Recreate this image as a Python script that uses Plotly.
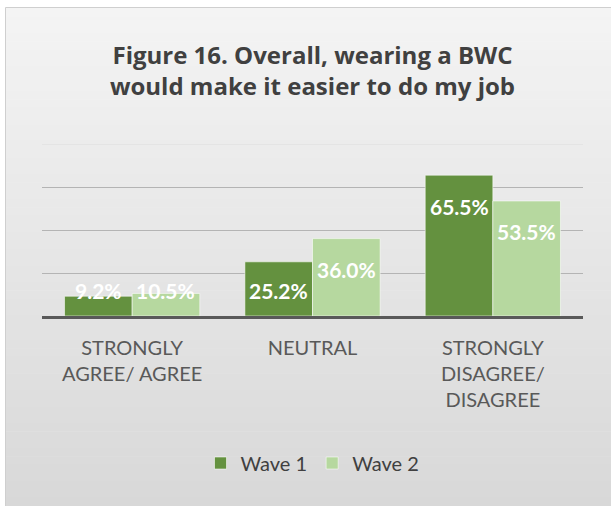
import plotly.graph_objects as go

categories = ["STRONGLY<br>AGREE/ AGREE", "NEUTRAL", "STRONGLY<br>DISAGREE/<br>DISAGREE"]
series_names = ["Wave 1", "Wave 2"]
wave1 = [9.2, 25.2, 65.5]
wave2 = [10.5, 36.0, 53.5]
title_text = "Figure 16. Overall, wearing a BWC<br>would make it easier to do my job"

colors = ["#64913f", "#b6d89f"]
W, H = 611, 506
L, R, T, B = 42, 583, 144, 316
YMAX = 80.0

def px2x(px):
    return (px - L) / (R - L)

def px2y(py):
    return (B - py) / (B - T)

fig = go.Figure()
for name, vals, col in zip(series_names, [wave1, wave2], colors):
    fig.add_trace(go.Bar(
        name=name, x=list(range(len(categories))), y=vals,
        marker=dict(color=col, line=dict(color="rgba(255,255,255,0.55)", width=1)),
        hoverinfo="skip",
    ))

# gradient background shapes
shapes = []
N = 60
y0p, y1p = 8, 506
c_top, c_bot = (244, 244, 244), (216, 216, 216)
for i in range(N):
    a = y0p + (y1p - y0p) * i / N
    b = y0p + (y1p - y0p) * (i + 1) / N
    t = (i + 0.5) / N
    c = tuple(round(c_top[k] + (c_bot[k] - c_top[k]) * t) for k in range(3))
    shapes.append(dict(type="rect", xref="paper", yref="paper",
                       x0=px2x(6), x1=px2x(W + 2), y0=px2y(a), y1=px2y(b + 0.5),
                       fillcolor="rgb(%d,%d,%d)" % c, line=dict(width=0), layer="below"))
shapes.append(dict(type="rect", xref="paper", yref="paper",
                   x0=px2x(5.5), x1=px2x(W + 3), y0=px2y(7.5), y1=px2y(H + 3),
                   fillcolor="rgba(0,0,0,0)", line=dict(color="#cfcfcf", width=1), layer="below"))
# top (max) gridline lighter
shapes.append(dict(type="line", xref="paper", yref="y", x0=0, x1=1, y0=YMAX, y1=YMAX,
                   line=dict(color="#dcdcdc", width=1), layer="below"))

# data labels
ppu = (B - T) / YMAX
annotations = []
offs = [-0.1875, 0.1875]
for si, vals in enumerate([wave1, wave2]):
    for ci, v in enumerate(vals):
        if v * ppu >= 57:
            y, ys = v, -31
        else:
            y, ys = 0, 26
        annotations.append(dict(x=ci + offs[si], y=y, xref="x", yref="y", yshift=ys,
                                text="%.1f%%" % v, showarrow=False, yanchor="middle",
                                font=dict(family="Lato", size=21, color="white", weight="bold")))

fig.update_layout(
    width=W, height=H,
    margin=dict(l=L, r=W - R, t=T, b=H - B, pad=0),
    paper_bgcolor="white", plot_bgcolor="rgba(0,0,0,0)",
    barmode="group", bargap=0.25, bargroupgap=0,
    title=dict(text="<b>" + title_text + "</b>", x=0.5, xref="paper", xanchor="center",
               y=1 - 63.5 / H, yref="container", yanchor="middle",
               font=dict(family="Open Sans", size=24, color="#404040")),
    xaxis=dict(tickvals=list(range(len(categories))), ticktext=categories,
               range=[-0.5, 2.5], showgrid=False, zeroline=False,
               showline=True, linecolor="#595959", linewidth=3,
               ticks="", ticklabelstandoff=12,
               tickfont=dict(family="Lato", size=20, color="#595959")),
    yaxis=dict(range=[0, YMAX], tickvals=[20, 40, 60], showticklabels=False,
               showgrid=True, gridcolor="#b4b4b4", gridwidth=1, zeroline=False, showline=False),
    legend=dict(orientation="h", x=0.5, xanchor="center", xref="paper",
                y=1 - 463 / H, yref="container", yanchor="middle",
                font=dict(family="Lato", size=20, color="#404040"),
                bgcolor="rgba(0,0,0,0)"),
    shapes=shapes, annotations=annotations,
    font=dict(family="Lato"),
)

fig.write_html("out.html")
